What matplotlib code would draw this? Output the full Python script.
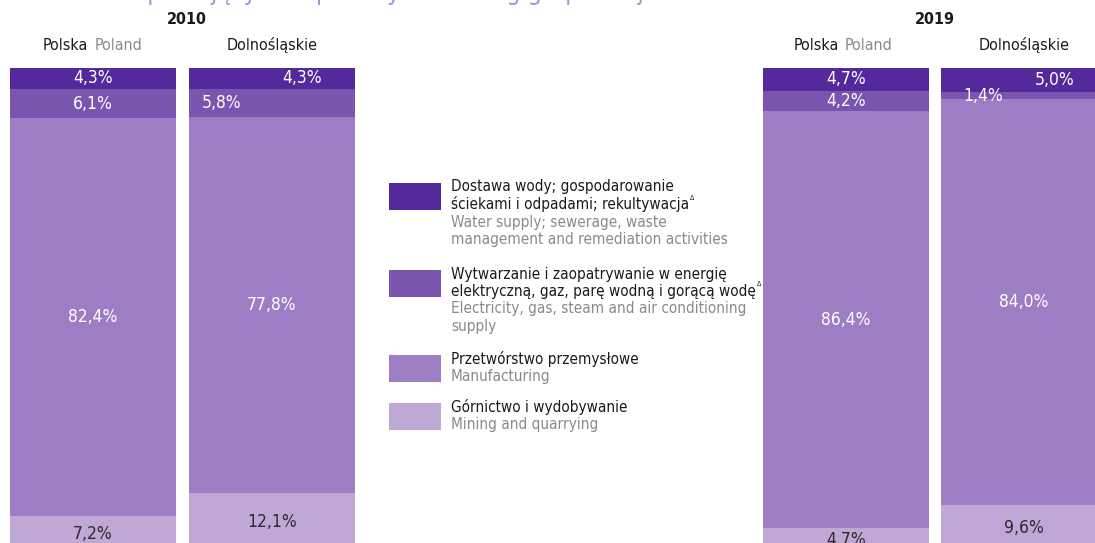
import numpy as np
import matplotlib
matplotlib.use('Agg')
import matplotlib.pyplot as plt
from matplotlib.patches import Rectangle
from matplotlib.transforms import Affine2D

plt.rcParams['font.family'] = ['DejaVu Sans']
plt.rcParams['font.stretch'] = 'condensed'

# udział sekcji w %, kolejność od góry słupka
sekcje_pl = ['Dostawa wody; gospodarowanie\nściekami i odpadami; rekultywacja',
             'Wytwarzanie i zaopatrywanie w energię\nelektryczną, gaz, parę wodną i gorącą wodę',
             'Przetwórstwo przemysłowe',
             'Górnictwo i wydobywanie']
sekcje_en = ['Water supply; sewerage, waste\nmanagement and remediation activities',
             'Electricity, gas, steam and air conditioning\nsupply',
             'Manufacturing',
             'Mining and quarrying']
polska_2010 = [4.3, 6.1, 82.4, 7.2]
dolnoslaskie_2010 = [4.3, 5.8, 77.8, 12.1]
polska_2019 = [4.7, 4.2, 86.4, 4.7]
dolnoslaskie_2019 = [5.0, 1.4, 84.0, 9.6]

kolory = ['#54299b', '#7a55b0', '#9d7ec4', '#bfa7d6']
kolory_etykiet = ['white', 'white', 'white', '#2b2b2b']

W, H = 1095, 543
fig = plt.figure(figsize=(W / 100, H / 100), dpi=100)
ax = fig.add_axes([0, 0, 1, 1])
ax.set_xlim(0, W)
skala = 4.83  # px na 1%
ax.set_ylim((H - 68) / skala, -68 / skala)
ax.axis('off')

# transformacja w pikselach liczonych od góry
px = Affine2D().scale(1 / W, -1 / H).translate(0, 1) + fig.transFigure

slupki = [polska_2010, dolnoslaskie_2010, polska_2019, dolnoslaskie_2019]
srodki = [93, 272, 846, 1024]
# przesunięcia etykiet w poziomie dla wąskich segmentów
przes = [[0, 0, 0, 0], [30, -50, 0, 0], [0, 0, 0, 0], [31, -41, 0, 0]]

for vals, xc, dx in zip(slupki, srodki, przes):
    vals = np.array(vals)
    dol = np.concatenate([[0], np.cumsum(vals)[:-1]])
    ax.bar([xc] * 4, vals, bottom=dol, width=166, color=kolory, linewidth=0)
    for i, (v, b) in enumerate(zip(vals, dol)):
        ax.text(xc + dx[i], b + v / 2, f'{v:.1f}%'.replace('.', ','),
                ha='center', va='center', fontsize=12.5, color=kolory_etykiet[i])

# tytuł (ucięty u góry)
fig.text(35, 0, 'Struktura pracujących w przemyśle według grup sekcji', transform=px,
         fontsize=18, color='#a593cf', va='baseline', ha='left')

# nagłówki kolumn
for x, rok in [(187, '2010'), (935, '2019')]:
    fig.text(x, 20, rok, transform=px, ha='center', va='center',
             fontsize=11.5, fontweight='bold', color='#1a1a1a')
for x in [65, 816]:
    fig.text(x, 45, 'Polska', transform=px, ha='center', va='center', fontsize=11.5, color='#1a1a1a')
    fig.text(x + 53, 45, 'Poland', transform=px, ha='center', va='center', fontsize=11.5, color='#8a8a8a')
for x in [272, 1024]:
    fig.text(x, 45, 'Dolnośląskie', transform=px, ha='center', va='center', fontsize=11.5, color='#1a1a1a')

# legenda
legenda_y = [183, 270, 355, 403]
z_delta = []
for i, y in enumerate(legenda_y):
    fig.patches.append(Rectangle((389, y), 52, 27, transform=px, color=kolory[i],
                                 linewidth=0, figure=fig))
    linie_pl = sekcje_pl[i].split('\n')
    linie_en = sekcje_en[i].split('\n')
    yy = y + 4
    for j, t in enumerate(linie_pl):
        txt = fig.text(451, yy, t, transform=px, ha='left', va='center',
                       fontsize=11, color='#1a1a1a')
        if i < 2 and j == 1:
            z_delta.append((txt, yy))
        yy += 17.5
    for t in linie_en:
        fig.text(451, yy, t, transform=px, ha='left', va='center',
                 fontsize=11, color='#8a8a8a')
        yy += 17.5

# znak Δ przy nazwach sekcji
fig.canvas.draw()
r = fig.canvas.get_renderer()
for txt, yy in z_delta:
    bb = txt.get_window_extent(r)
    fig.text(bb.x1 + 1, yy - 7, 'Δ', transform=px, ha='left', va='center',
             fontsize=5, color='#1a1a1a')

fig.savefig('out.png', dpi=100)
